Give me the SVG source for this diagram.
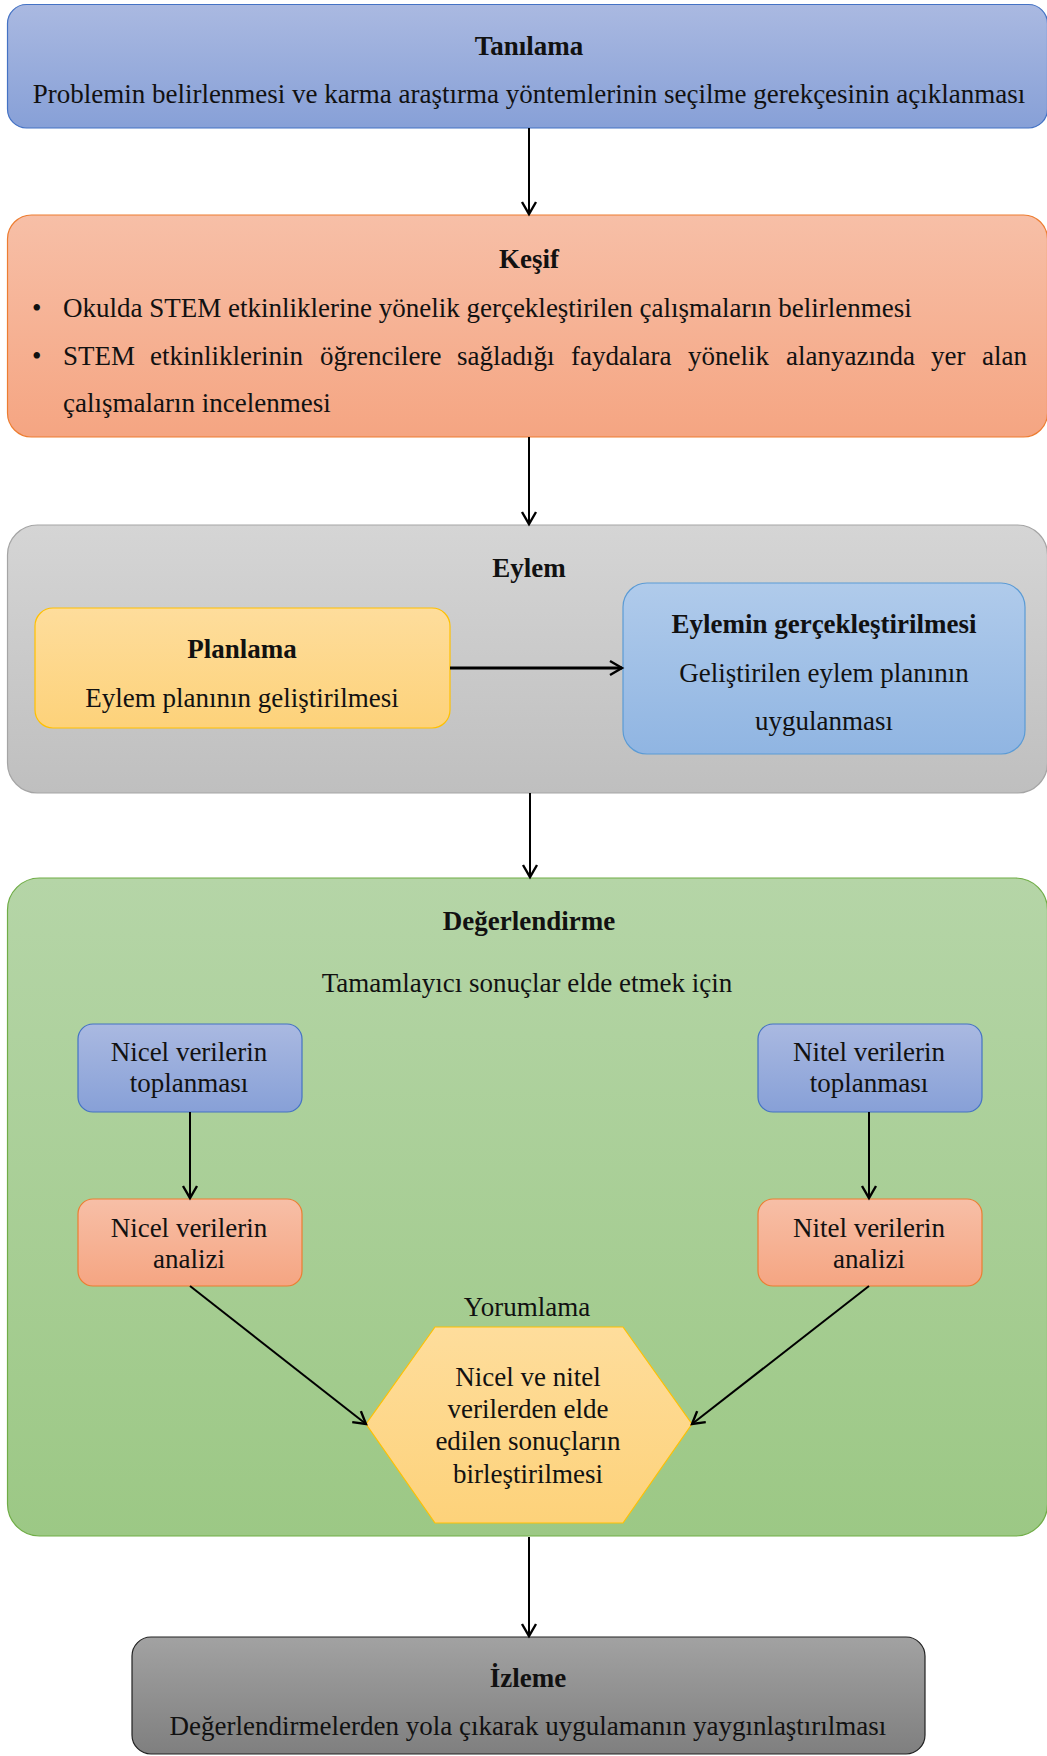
<svg xmlns="http://www.w3.org/2000/svg" width="1047" height="1756" viewBox="0 0 1047 1756">
  <defs>
    <linearGradient id="gBlue" x1="0" y1="0" x2="0" y2="1">
      <stop offset="0" stop-color="#aab9e1"/>
      <stop offset="1" stop-color="#87a0d7"/>
    </linearGradient>
    <linearGradient id="gOrange" x1="0" y1="0" x2="0" y2="1">
      <stop offset="0" stop-color="#f7bfa7"/>
      <stop offset="1" stop-color="#f5a582"/>
    </linearGradient>
    <linearGradient id="gGrey" x1="0" y1="0" x2="0" y2="1">
      <stop offset="0" stop-color="#d5d5d5"/>
      <stop offset="1" stop-color="#bfbfbf"/>
    </linearGradient>
    <linearGradient id="gGold" x1="0" y1="0" x2="0" y2="1">
      <stop offset="0" stop-color="#fedd9c"/>
      <stop offset="1" stop-color="#fdd27a"/>
    </linearGradient>
    <linearGradient id="gSky" x1="0" y1="0" x2="0" y2="1">
      <stop offset="0" stop-color="#b0cbeb"/>
      <stop offset="1" stop-color="#90b5e2"/>
    </linearGradient>
    <linearGradient id="gGreen" x1="0" y1="0" x2="0" y2="1">
      <stop offset="0" stop-color="#b5d5a7"/>
      <stop offset="1" stop-color="#9cc885"/>
    </linearGradient>
    <linearGradient id="gDark" x1="0" y1="0" x2="0" y2="1">
      <stop offset="0" stop-color="#a2a2a2"/>
      <stop offset="1" stop-color="#7f7f7f"/>
    </linearGradient>
    <marker id="arrow" markerUnits="userSpaceOnUse" markerWidth="18" markerHeight="18" refX="14" refY="9" orient="auto">
      <path d="M2,2 L14,9 L2,16" fill="none" stroke="#000" stroke-width="2.4" stroke-linejoin="miter"/>
    </marker>
  </defs>
  <style>
    text { font-family: "Liberation Serif", "Times New Roman", serif; font-size: 27px; fill: #111; }
    .c { text-anchor: middle; }
    .b { font-weight: bold; }
    .edge { fill: none; stroke: #000; stroke-width: 2; marker-end: url(#arrow); }
    .thick { stroke-width: 3; }
  </style>

  <!-- stage: diagnosis -->
  <g id="tanilama">
    <rect x="7.5" y="4.5" width="1040" height="123.5" rx="19" ry="19" fill="url(#gBlue)" stroke="#4472c4" stroke-width="1.2"/>
    <text class="c b" x="529" y="55">Tanılama</text>
    <text class="c" x="529" y="103">Problemin belirlenmesi ve karma araştırma yöntemlerinin seçilme gerekçesinin açıklanması</text>
  </g>

  <!-- stage: exploration -->
  <g id="kesif">
    <rect x="7.5" y="215" width="1040" height="222" rx="24" ry="24" fill="url(#gOrange)" stroke="#ed7d31" stroke-width="1.2"/>
    <text class="c b" x="529" y="268">Keşif</text>
    <text x="32" y="317">•</text>
    <text x="63" y="317">Okulda STEM etkinliklerine yönelik gerçekleştirilen çalışmaların belirlenmesi</text>
    <text x="32" y="365">•</text>
    <text y="365"><tspan x="63">STEM</tspan><tspan x="150">etkinliklerinin</tspan><tspan x="320">öğrencilere</tspan><tspan x="457">sağladığı</tspan><tspan x="571">faydalara</tspan><tspan x="688">yönelik</tspan><tspan x="786">alanyazında</tspan><tspan x="931">yer</tspan><tspan x="982">alan</tspan></text>
    <text x="63" y="412">çalışmaların incelenmesi</text>
  </g>

  <!-- stage: action -->
  <g id="eylem">
    <rect x="7.5" y="525" width="1040" height="268" rx="30" ry="30" fill="url(#gGrey)" stroke="#a5a5a5" stroke-width="1.2"/>
    <text class="c b" x="529" y="577">Eylem</text>
  </g>
  <g id="planlama">
    <rect x="35" y="608" width="415" height="120" rx="18" ry="18" fill="url(#gGold)" stroke="#ffc000" stroke-width="1.2"/>
    <text class="c b" x="242" y="658">Planlama</text>
    <text class="c" x="242" y="707">Eylem planının geliştirilmesi</text>
  </g>
  <g id="eylemin-gerceklestirilmesi">
    <rect x="623" y="583" width="402" height="171" rx="24" ry="24" fill="url(#gSky)" stroke="#5b9bd5" stroke-width="1.2"/>
    <text class="c b" x="824" y="633">Eylemin gerçekleştirilmesi</text>
    <text class="c" x="824" y="682">Geliştirilen eylem planının</text>
    <text class="c" x="824" y="730">uygulanması</text>
  </g>

  <!-- stage: evaluation -->
  <g id="degerlendirme">
    <rect x="7.5" y="878" width="1040" height="658" rx="32" ry="32" fill="url(#gGreen)" stroke="#70ad47" stroke-width="1.2"/>
    <text class="c b" x="529" y="930">Değerlendirme</text>
    <text class="c" x="527" y="992">Tamamlayıcı sonuçlar elde etmek için</text>
    <text class="c" x="527" y="1316">Yorumlama</text>
  </g>
  <g id="nicel-toplanmasi">
    <rect x="78" y="1024" width="224" height="88" rx="15" ry="15" fill="url(#gBlue)" stroke="#4472c4" stroke-width="1.2"/>
    <text class="c" x="189" y="1061">Nicel verilerin</text>
    <text class="c" x="189" y="1092">toplanması</text>
  </g>
  <g id="nitel-toplanmasi">
    <rect x="758" y="1024" width="224" height="88" rx="15" ry="15" fill="url(#gBlue)" stroke="#4472c4" stroke-width="1.2"/>
    <text class="c" x="869" y="1061">Nitel verilerin</text>
    <text class="c" x="869" y="1092">toplanması</text>
  </g>
  <g id="nicel-analizi">
    <rect x="78" y="1199" width="224" height="87" rx="15" ry="15" fill="url(#gOrange)" stroke="#ed7d31" stroke-width="1.2"/>
    <text class="c" x="189" y="1237">Nicel verilerin</text>
    <text class="c" x="189" y="1268">analizi</text>
  </g>
  <g id="nitel-analizi">
    <rect x="758" y="1199" width="224" height="87" rx="15" ry="15" fill="url(#gOrange)" stroke="#ed7d31" stroke-width="1.2"/>
    <text class="c" x="869" y="1237">Nitel verilerin</text>
    <text class="c" x="869" y="1268">analizi</text>
  </g>
  <g id="birlestirme">
    <polygon points="435,1327 623,1327 692,1424 623,1523 435,1523 366,1424" fill="url(#gGold)" stroke="#ffc000" stroke-width="1.2"/>
    <text class="c" x="528" y="1386">Nicel ve nitel</text>
    <text class="c" x="528" y="1418">verilerden elde</text>
    <text class="c" x="528" y="1450">edilen sonuçların</text>
    <text class="c" x="528" y="1483">birleştirilmesi</text>
  </g>

  <!-- stage: monitoring -->
  <g id="izleme">
    <rect x="132" y="1637" width="793" height="117" rx="19" ry="19" fill="url(#gDark)" stroke="#222" stroke-width="1.2"/>
    <text class="c b" x="528" y="1687">İzleme</text>
    <text class="c" x="528" y="1735">Değerlendirmelerden yola çıkarak uygulamanın yaygınlaştırılması</text>
  </g>

  <!-- connectors -->
  <g id="connectors">
    <line class="edge" x1="529" y1="128" x2="529" y2="214"/>
    <line class="edge" x1="529" y1="437" x2="529" y2="524"/>
    <line class="edge" x1="530" y1="793" x2="530" y2="877"/>
    <line class="edge thick" x1="450" y1="668" x2="622" y2="668"/>
    <line class="edge" x1="190" y1="1112" x2="190" y2="1198"/>
    <line class="edge" x1="869" y1="1112" x2="869" y2="1198"/>
    <line class="edge" x1="190" y1="1286" x2="366" y2="1424"/>
    <line class="edge" x1="869" y1="1286" x2="692" y2="1424"/>
    <line class="edge" x1="529" y1="1537" x2="529" y2="1636"/>
  </g>
</svg>
